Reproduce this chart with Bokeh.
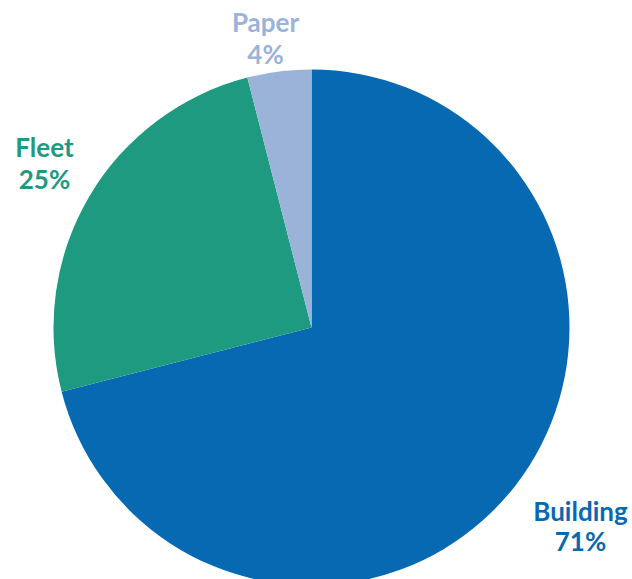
import math
from bokeh.plotting import figure
from bokeh.models import Range1d
from bokeh.core.properties import value
from bokeh.embed import file_html
from bokeh.resources import INLINE

# Share of emissions by source
categories = ["Building", "Fleet", "Paper"]
shares = [71, 25, 4]
colors = ["#0869b3", "#1d9a80", "#9bb3d9"]

W, H = 632, 579
CX, CY, R = 311, H - 327, 258

p = figure(width=W, height=H, output_backend="svg", toolbar_location=None,
           x_range=Range1d(0, W), y_range=Range1d(0, H), min_border=0)
p.axis.visible = False
p.grid.visible = False
p.outline_line_color = None
p.background_fill_color = "white"
p.border_fill_color = "white"

# slices run clockwise from 12 o'clock
total = sum(shares)
starts, ends = [], []
top = math.pi / 2
acc = 0.0
for s in shares:
    end = top - 2 * math.pi * acc / total
    acc += s
    start = top - 2 * math.pi * acc / total
    starts.append(start)
    ends.append(end)

p.wedge(x=[CX] * len(shares), y=[CY] * len(shares), radius=R,
        start_angle=starts, end_angle=ends, fill_color=colors, line_color=None)

# label anchor (x, baseline of name, baseline of percent) in screen pixels
anchors = {"Building": (580, 510, 540), "Fleet": (44, 146, 178), "Paper": (265, 21, 53)}
for cat, s, c in zip(categories, shares, colors):
    ax, y1, y2 = anchors[cat]
    p.text(x=[ax, ax], y=[H - y1, H - y2], text=[cat, f"{s}%"],
           text_color=c, text_font=value("Lato"), text_font_style="bold",
           text_font_size="26px", text_align="center", text_baseline="alphabetic")

open("out.html", "w").write(file_html(p, INLINE))
